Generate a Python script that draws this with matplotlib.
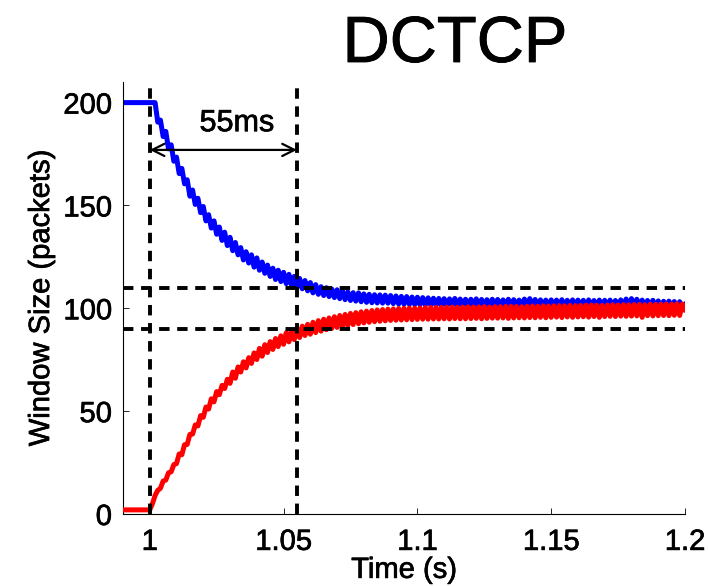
import matplotlib

matplotlib.use("Agg")
import matplotlib.pyplot as plt
import matplotlib.patheffects as pe
import numpy as np

plt.rcParams.update({
    "font.family": ["Liberation Sans", "DejaVu Sans"],
    "font.size": 21,
    "lines.scale_dashes": False,
})

# Congestion window samples, one per millisecond from T_START.
T_START = 0.990
DT = 0.001

# Long-lived flow (blue) backing off after the second flow joins.
flow1_cwnd = [
    200, 200, 200, 200, 200, 200, 200, 200, 200, 200,
    200, 200, 200, 190.5, 191.5, 183.5, 186, 177.5, 179.5, 171.5,
    173.5, 165.5, 168, 160.5, 162.5, 154.5, 157.5, 150.5, 153.5, 146.5,
    149.5, 142.5, 145.5, 139, 142.5, 136, 139.5, 133, 137, 130.5,
    134.5, 128, 132, 126, 129.5, 123.5, 127.5, 122, 126, 120,
    124.5, 118.5, 122.5, 117, 121, 115.5, 119.5, 114, 118.5, 113,
    117.5, 112, 116.5, 111, 115.5, 110, 114.5, 109.5, 113.5, 108.5,
    112.5, 107.5, 111.5, 106.8, 110.5, 106.2, 110, 105.7, 109.4, 105.2,
    109, 104.7, 108.5, 104.2, 108, 103.8, 107.6, 103.5, 107.5, 103.2,
    107, 102.9, 106.8, 102.7, 106.6, 102.6, 106.5, 102.5, 106.4, 102.5,
    106.2, 102.3, 106.0, 102.1, 105.8, 102.0, 105.7, 101.9, 105.5, 101.8,
    105.4, 101.7, 105.2, 101.6, 105.1, 101.5, 104.9, 101.4, 104.8, 101.3,
    104.7, 101.2, 104.6, 101.2, 104.8, 101.1, 104.5, 101.1, 104.4, 101.0,
    104.4, 101.0, 104.6, 100.9, 104.3, 101.0, 104.2, 100.9, 104.4, 100.8,
    104.3, 100.8, 104.1, 100.9, 104.4, 100.7, 104.2, 100.7, 104.0, 100.8,
    104.5, 100.9, 104.7, 100.7, 104.3, 100.6, 104.1, 100.7, 104.0, 100.6,
    104.1, 100.6, 104.0, 100.7, 104.2, 100.5, 103.9, 100.6, 104.1, 100.5,
    104.0, 100.5, 103.9, 100.6, 104.1, 100.5, 103.8, 100.5, 104.0, 100.4,
    103.9, 100.5, 104.0, 100.4, 103.8, 100.5, 104.1, 100.6, 104.5, 100.7,
    104.7, 100.8, 104.4, 100.6, 104.0, 100.5, 103.8, 100.4, 103.9, 100.3,
    103.6, 100.4, 103.4, 100.3, 103.5, 100.2, 103.3, 100.3, 103.2, 100.2,
    101.8,
]

# New flow (red) ramping up to its fair share.
flow2_cwnd = [
    2, 2, 2, 2, 2, 2, 2, 2, 2, 2,
    2, 5, 9, 11.5, 12.5, 16, 16.5, 20, 20.5, 24,
    24.5, 29.2, 28.8, 33.7, 33.8, 38.7, 38.8, 43.3, 42.8, 47.8,
    47, 52, 51, 56, 54.5, 59.5, 58, 62.5, 61, 65.5,
    63.5, 69, 66, 71.5, 69, 74, 71, 76, 73.2, 78.3,
    75.1, 80.5, 76.7, 82.3, 78.5, 83.8, 80, 85.3, 81.4, 86.6,
    82.5, 88.1, 83.7, 89.3, 84.8, 90.3, 85.8, 91.3, 86.8, 92.2,
    87.4, 93.2, 88.2, 94, 88.9, 94.7, 89.6, 95.3, 90.2, 95.9,
    90.7, 96.5, 91.2, 97, 91.7, 97.5, 92.1, 97.9, 92.5, 98.3,
    92.9, 98.6, 93.2, 98.9, 93.5, 99.2, 93.7, 99.4, 93.9, 99.6,
    94.1, 99.7, 94.2, 99.9, 94.3, 100.0, 94.4, 100.1, 94.5, 100.1,
    94.6, 100.2, 94.7, 100.3, 94.7, 100.4, 94.8, 100.4, 94.8, 100.5,
    94.9, 100.5, 94.8, 100.6, 95.0, 100.5, 94.9, 100.6, 94.9, 100.7,
    95.0, 100.6, 95.1, 100.7, 94.9, 100.8, 95.1, 100.6, 95.2, 100.8,
    95.2, 100.8, 95.3, 100.9, 95.1, 101.0, 95.3, 100.9, 95.4, 100.8,
    95.3, 101.0, 95.5, 101.1, 95.4, 101.0, 95.6, 101.2, 95.4, 101.1,
    95.6, 101.2, 95.7, 101.3, 95.5, 101.2, 95.8, 101.4, 95.6, 101.3,
    95.8, 101.4, 95.9, 101.5, 95.7, 101.6, 96.0, 101.5, 95.6, 101.4,
    96.0, 101.6, 96.1, 101.7, 96.0, 101.6, 96.2, 101.8, 96.1, 101.7,
    96.2, 101.8, 96.3, 101.9, 95.6, 101.7, 96.4, 102.0, 96.3, 101.9,
    96.4, 102.0, 96.5, 102.1, 96.4, 102.0, 96.6, 102.2, 96.5, 102.1,
    99.3,
]

# Reference markers: flow start, convergence time, +/-10% band around 100.
t_join = 1.0
t_converged = 1.055
band_lo, band_hi = 90, 110
span_label = "55ms"
arrow_y = 177

xticks = [1, 1.05, 1.1, 1.15, 1.2]
xticklabels = ["1", "1.05", "1.1", "1.15", "1.2"]
yticks = [0, 50, 100, 150, 200]

# slightly heavier glyphs, closer to the old Helvetica export
heavy = [pe.withStroke(linewidth=0.5, foreground="black")]

t = T_START + DT * np.arange(len(flow1_cwnd))

fig = plt.figure(figsize=(7.08, 5.86), dpi=100)
ax = fig.add_axes([0.1737, 0.1229, 0.7938, 0.7371])

ax.plot(t, flow1_cwnd, color="#0000ff", linewidth=3.6, zorder=2)
ax.plot(t, flow2_cwnd, color="#ff0000", linewidth=3.6, zorder=3)

dash_kw = dict(color="black", linewidth=2.8, dashes=(7.5, 5.5), zorder=4)
for x in (t_join, t_converged):
    ax.axvline(x, **dash_kw)
for y in (band_lo, band_hi):
    ax.axhline(y, **dash_kw)

ax.annotate("", xy=(t_join, arrow_y), xytext=(t_converged, arrow_y),
            arrowprops=dict(arrowstyle="<->", color="black", lw=1.6,
                            mutation_scale=22, shrinkA=0, shrinkB=0),
            zorder=5)
ax.text((t_join + t_converged) / 2 + 0.005, 190, span_label,
        ha="center", va="center", fontsize=22, path_effects=heavy)

ax.set_xlim(0.99, 1.2)
ax.set_ylim(0, 210)
ax.set_xticks(xticks)
ax.set_xticklabels(xticklabels)
ax.set_yticks(yticks)
ax.tick_params(direction="in", length=4, width=0.6, labelsize=21)
ax.tick_params(axis="x", pad=10)
ax.tick_params(axis="y", pad=8)
for side in ("top", "right"):
    ax.spines[side].set_visible(False)
for side in ("left", "bottom"):
    ax.spines[side].set_linewidth(0.8)

ax.set_xlabel("Time (s)", fontsize=21, labelpad=0)
ax.set_ylabel("Window Size (packets)", fontsize=21, labelpad=6)
ax.xaxis.label.set_path_effects(heavy)
ax.yaxis.label.set_path_effects(heavy)
for lbl in ax.get_xticklabels() + ax.get_yticklabels():
    lbl.set_path_effects(heavy)

fig.text(455 / 708, 1 - 62 / 586, "DCTCP", ha="center", va="baseline",
         fontsize=47, path_effects=[pe.withStroke(linewidth=0.6,
                                                  foreground="black")])

fig.savefig("out.png", dpi=100)
